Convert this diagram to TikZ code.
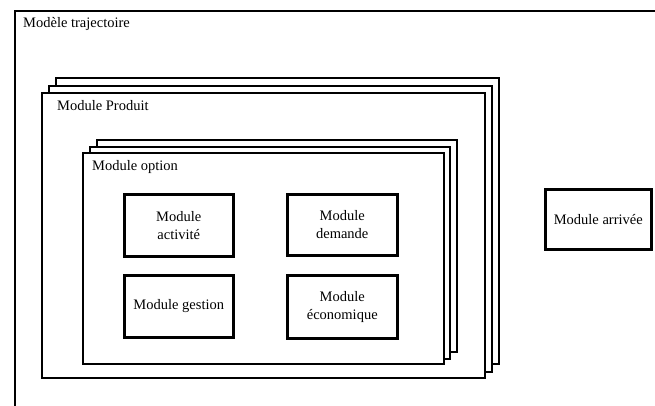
\documentclass[tikz,border=0pt]{standalone}
\usepackage{fontspec}
\setmainfont{Liberation Serif}
\begin{document}
\begin{tikzpicture}[x=1pt,y=-1pt,
  frame/.style={draw, line width=2.3pt, fill=white, inner sep=0pt, anchor=north west},
  mbox/.style={draw, line width=2.5pt, fill=white, inner sep=0pt, align=center, anchor=north west,
    font=\fontsize{14.5}{18}\selectfont},
  lbl/.style={anchor=west, inner sep=0pt, font=\fontsize{14.5}{16}\selectfont}]
\useasboundingbox (0,0) rectangle (655,405);
\clip (0,0) rectangle (655,405);
\fill[white] (0,0) rectangle (655,405);
% outer frame
\node[frame, minimum width=680pt, minimum height=430pt] (traj) at (14,10) {};
\node[lbl] (trajl) at (23,24) {Modèle trajectoire};
% Module Produit stack
\node[frame, minimum width=443pt, minimum height=286pt] (prod3) at (55,77) {};
\node[frame, minimum width=443pt, minimum height=286pt] (prod2) at (48,85) {};
\node[frame, minimum width=443pt, minimum height=285pt] (prod1) at (41,92) {};
\node[lbl] (prodl) at (57,106) {Module Produit};
% Module option stack
\node[frame, minimum width=360pt, minimum height=212pt] (opt3) at (96,139) {};
\node[frame, minimum width=360pt, minimum height=212pt] (opt2) at (89,146) {};
\node[frame, minimum width=361pt, minimum height=211pt] (opt1) at (82,152) {};
\node[lbl] (optl) at (92,167) {Module option};
% inner boxes
\node[mbox, minimum width=109pt, minimum height=62pt] (act) at (123,193) {Module\\activité};
\node[mbox, minimum width=110pt, minimum height=61pt] (dem) at (286,193) {Module\\demande};
\node[mbox, minimum width=109pt, minimum height=62pt] (ges) at (123,274) {Module gestion};
\node[mbox, minimum width=110pt, minimum height=63pt] (eco) at (286,274) {Module\\économique};
% arrivee
\node[mbox, minimum width=106pt, minimum height=60pt] (arr) at (544,188) {Module arrivée};
\end{tikzpicture}
\end{document}
